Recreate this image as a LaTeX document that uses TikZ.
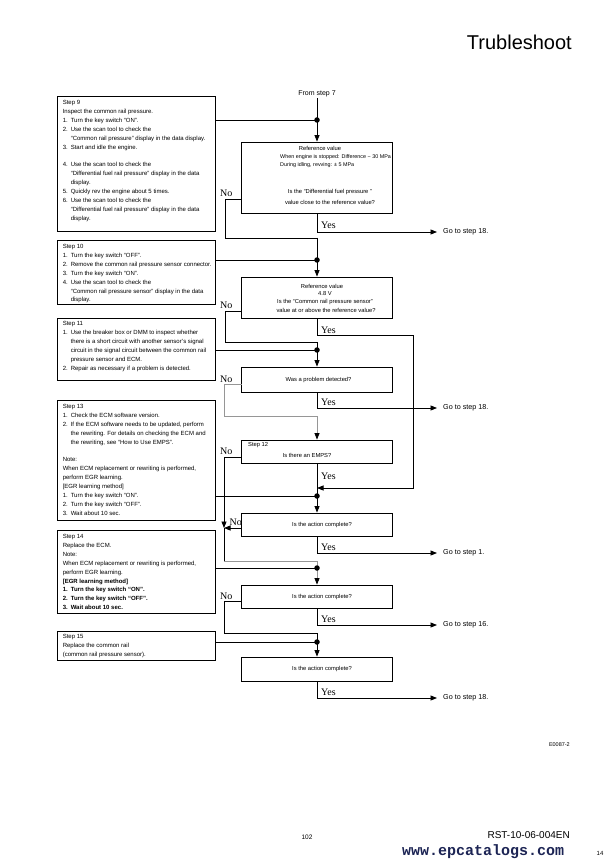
\documentclass[tikz,border=0pt]{standalone}
\usepackage{fontspec}
\setmainfont{Liberation Sans}
\newfontfamily\ynfont{Liberation Serif}
\newfontfamily\wwwfont{Liberation Mono}
\usetikzlibrary{arrows.meta,calc}
\definecolor{navyw}{RGB}{28,36,84}
\definecolor{lgray}{RGB}{150,150,150}
\newcommand\nitem[2]{\makebox[8pt][l]{#1}#2}
\newcommand\ncont[1]{\hspace*{8pt}#1}
\begin{document}
\begin{tikzpicture}[x=1pt,y=-1pt,
  lbox/.style={draw,line width=0.8pt,minimum width=158pt,inner sep=0},
  rbox/.style={draw,line width=0.8pt,minimum width=151pt,inner sep=0},
  ltext/.style={anchor=north west,inner sep=0,align=left,font=\fontsize{6}{8.9}\selectfont},
  rtext/.style={inner sep=0,font=\fontsize{5.8}{7}\selectfont},
  stext/.style={inner sep=0,font=\fontsize{5.4}{7}\selectfont},
  ln/.style={line width=0.8pt},
  gln/.style={line width=0.8pt,draw=lgray},
  arr/.style={line width=0.8pt,-{Triangle[width=5pt,length=6.5pt]}},
  garr/.style={line width=0.8pt,draw=lgray,-{Triangle[width=5pt,length=6.5pt,color=black]}},
  jdot/.style={circle,fill,inner sep=0,minimum size=5.5pt},
  yn/.style={inner sep=0,anchor=base west,font=\ynfont\fontsize{10}{10}\selectfont},
  goto/.style={inner sep=0,anchor=west,font=\fontsize{7.2}{8}\selectfont},
]
\fill[white] (0,0) rectangle (614,866);
\useasboundingbox (0,0) rectangle (614,866);

% title
\node[anchor=base east,inner sep=0,font=\fontsize{20}{20}\selectfont] (title) at (572,50) {Trubleshoot};

% ---------- left step boxes ----------
\node[lbox,minimum height=135pt] (s9) at (136,163.5) {};
\node[ltext] (s9t) at ($(s9.north west)+(6,4.6)$) {Step 9\\
Inspect the common rail pressure.\\
\nitem{1.}{Turn the key switch “ON”.}\\
\nitem{2.}{Use the scan tool to check the}\\
\ncont{“Common rail pressure” display in the data display.}\\
\nitem{3.}{Start and idle the engine.}\\[8.9pt]
\nitem{4.}{Use the scan tool to check the}\\
\ncont{“Differential fuel rail pressure” display in the data}\\
\ncont{display.}\\
\nitem{5.}{Quickly rev the engine about 5 times.}\\
\nitem{6.}{Use the scan tool to check the}\\
\ncont{“Differential fuel rail pressure” display in the data}\\
\ncont{display.}};

\node[lbox,minimum height=64pt] (s10) at (136,272) {};
\node[ltext] (s10t) at ($(s10.north west)+(6,4.6)$) {Step 10\\
\nitem{1.}{Turn the key switch “OFF”.}\\
\nitem{2.}{Remove the common rail pressure sensor connector.}\\
\nitem{3.}{Turn the key switch “ON”.}\\
\nitem{4.}{Use the scan tool to check the}\\
\ncont{“Common rail pressure sensor” display in the data}\\
\ncont{display.}};

\node[lbox,minimum height=62pt] (s11) at (136,349) {};
\node[ltext] (s11t) at ($(s11.north west)+(6,4)$) {Step 11\\
\nitem{1.}{Use the breaker box or DMM to inspect whether}\\
\ncont{there is a short circuit with another sensor's signal}\\
\ncont{circuit in the signal circuit between the common rail}\\
\ncont{pressure sensor and ECM.}\\
\nitem{2.}{Repair as necessary if a problem is detected.}};

\node[lbox,minimum height=120pt] (s13) at (136,460) {};
\node[ltext] (s13t) at ($(s13.north west)+(6,4.6)$) {Step 13\\
\nitem{1.}{Check the ECM software version.}\\
\nitem{2.}{If the ECM software needs to be updated, perform}\\
\ncont{the rewriting. For details on checking the ECM and}\\
\ncont{the rewriting, see “How to Use EMPS”.}\\[8.9pt]
Note:\\
When ECM replacement or rewriting is performed,\\
perform EGR learning.\\
{[}EGR learning method{]}\\
\nitem{1.}{Turn the key switch “ON”.}\\
\nitem{2.}{Turn the key switch “OFF”.}\\
\nitem{3.}{Wait about 10 sec.}};

\node[lbox,minimum height=83pt] (s14) at (136,571.5) {};
\node[ltext] (s14t) at ($(s14.north west)+(6,4.6)$) {Step 14\\
Replace the ECM.\\
Note:\\
When ECM replacement or rewriting is performed,\\
perform EGR learning.\\
\textbf{{[}EGR learning method{]}}\\
\textbf{\nitem{1.}{Turn the key switch “ON”.}}\\
\textbf{\nitem{2.}{Turn the key switch “OFF”.}}\\
\textbf{\nitem{3.}{Wait about 10 sec.}}};

\node[lbox,minimum height=29pt] (s15) at (136,645.5) {};
\node[ltext] (s15t) at ($(s15.north west)+(6,3.8)$) {Step 15\\
Replace the common rail\\
(common rail pressure sensor).};

% ---------- right decision boxes ----------
\node[rbox,minimum height=71pt] (b1) at (317,177.5) {};
\node[rtext] (b1a) at (320,148.5) {Reference value};
\node[stext,anchor=west] (b1b) at (280,157) {When engine is stopped: Difference − 30 MPa};
\node[stext,anchor=west] (b1c) at (280,165.5) {During idling, revving: ± 5 MPa};
\node[rtext] (b1d) at (330,192) {Is the “Differential fuel pressure ”};
\node[rtext] (b1e) at (330,202) {value close to the reference value?};

\node[rbox,minimum height=41pt] (b2) at (317,297.5) {};
\node[rtext] (b2a) at (322,286) {Reference value};
\node[rtext] (b2b) at (325,294) {4.8 V};
\node[rtext] (b2c) at (325,302) {Is the “Common rail pressure sensor”};
\node[rtext] (b2d) at (326,310) {value at or above the reference value?};

\node[rbox,minimum height=25pt] (b3) at (317,379.5) {};
\node[rtext] (b3a) at (318.5,379.5) {Was a problem detected?};

\node[rbox,minimum height=23pt] (b4) at (317,451.5) {};
\node[rtext,anchor=west] (b4a) at (248,445) {Step 12};
\node[rtext] (b4b) at (307,455) {Is there an EMPS?};

\node[rbox,minimum height=23pt] (b5) at (317,524.5) {};
\node[rtext] (b5a) at (322,524.5) {Is the action complete?};
\node[rbox,minimum height=23pt] (b6) at (317,596.5) {};
\node[rtext] (b6a) at (322,596.5) {Is the action complete?};
\node[rbox,minimum height=24pt] (b7) at (317,669) {};
\node[rtext] (b7a) at (322,669) {Is the action complete?};

% ---------- go-to targets ----------
\node[goto] (g1) at (443,232) {Go to step 18.};
\node[goto] (g2) at (443,408) {Go to step 18.};
\node[goto] (g3) at (443,553) {Go to step 1.};
\node[goto] (g4) at (443,625) {Go to step 16.};
\node[goto] (g5) at (443,698) {Go to step 18.};

% ---------- junctions and bends ----------
\node[inner sep=1pt,font=\fontsize{7}{8}\selectfont] (from7) at (317,94) {From step 7};
\coordinate (j1) at (317,120);
\coordinate (j2) at (317,260);
\coordinate (j3) at (317,350);
\coordinate (j5) at (317,496);
\coordinate (j6) at (317,568);
\coordinate (j7) at (317,642);

\coordinate (n1a) at (241.5,199);
\coordinate (n1b) at (225,238);
\coordinate (n1c) at (317,238);
\coordinate (n2a) at (241.5,311);
\coordinate (n2b) at (225,342);
\coordinate (n2c) at (317,342);
\coordinate (n3a) at (241.5,384);
\coordinate (n3b) at (224,416);
\coordinate (n3c) at (317,416);
\coordinate (n4a) at (241.5,457);
\coordinate (m5) at (224,528);
\coordinate (n5a) at (241.5,528);
\coordinate (n5b) at (224,561);
\coordinate (n5c) at (317,561);
\coordinate (n6a) at (241.5,601);
\coordinate (n6b) at (224,633);
\coordinate (n6c) at (317,633);
\coordinate (l1) at (317,335);
\coordinate (l2) at (413,335);
\coordinate (l3) at (413,488);
\coordinate (l4) at (317,488);

% ---------- connectors ----------
\draw[arr] (from7) -- (b1);
\draw[ln] (s9.east |- j1) -- (j1);

\draw[ln] (n1a) -| (n1b) -- (n1c);
\draw[arr] (n1c) -- (b2);
\draw[ln] (s10.east |- j2) -- (j2);
\draw[arr,shorten >=6pt] (b1.south) |- (g1);

\draw[ln] (n2a) -| (n2b) -- (n2c);
\draw[arr] (n2c) -- (b3);
\draw[ln] (s11.east |- j3) -- (j3);
\draw[arr] (b2.south) -- (l1) -- (l2) -- (l3) -- (l4);

\draw[gln] (n3a) -| (n3b) -- (n3c);
\draw[garr] (n3c) -- (b4);
\draw[arr,shorten >=6pt] (b3.south) |- (g2);

\draw[arr] (n4a) -| (m5);
\draw[arr] (b4) -- (b5);
\draw[ln] (s13.east |- j5) -- (j5);

\draw[arr] (n5a) -- (m5);
\draw[ln] (m5) -- (n5b);
\draw[gln] (n5b) -- (n5c);
\draw[garr] (n5c) -- (b6);
\draw[ln] (s14.east |- j6) -- (j6);
\draw[arr,shorten >=6pt] (b5.south) |- (g3);

\draw[ln] (n6a) -| (n6b) -- (n6c);
\draw[arr] (n6c) -- (b7);
\draw[ln] (s15.east |- j7) -- (j7);
\draw[arr,shorten >=6pt] (b6.south) |- (g4);

\draw[arr,shorten >=6pt] (b7.south) |- (g5);

% dots
\node[jdot] (d1) at (j1) {};
\node[jdot] (d2) at (j2) {};
\node[jdot] (d3) at (j3) {};
\node[jdot] (d5) at (j5) {};
\node[jdot] (d6) at (j6) {};
\node[jdot] (d7) at (j7) {};

% Yes / No labels
\node[yn] (y1) at (321,229) {Yes};
\node[yn] (y2) at (321,333) {Yes};
\node[yn] (y3) at (321,405) {Yes};
\node[yn] (y4) at (321,479) {Yes};
\node[yn] (y5) at (321,550) {Yes};
\node[yn] (y6) at (321,622) {Yes};
\node[yn] (y7) at (321,695) {Yes};
\node[yn] (no1) at (220,196.5) {No};
\node[yn] (no2) at (220,308.5) {No};
\node[yn] (no3) at (220,382) {No};
\node[yn] (no4) at (220,454.5) {No};
\node[yn] (no5) at (229.5,525.5) {No};
\node[yn] (no6) at (220,599.5) {No};

% footer
\node[anchor=east,inner sep=0,font=\fontsize{5.5}{6}\selectfont] (code) at (570,745) {E0087-2};
\node[anchor=base,inner sep=0,font=\fontsize{6.5}{7}\selectfont] (pg) at (307,839.5) {102};
\node[anchor=base east,inner sep=0,font=\fontsize{10}{10}\selectfont] (rst) at (570,838.5) {RST-10-06-004EN};
\node[anchor=base west,inner sep=0,text=navyw,font=\wwwfont\bfseries\fontsize{15}{15}\selectfont] (www) at (402,855) {www.epcatalogs.com};
\node[anchor=base,inner sep=0,font=\fontsize{6}{7}\selectfont] (p14) at (600,855) {14};
\end{tikzpicture}
\end{document}
